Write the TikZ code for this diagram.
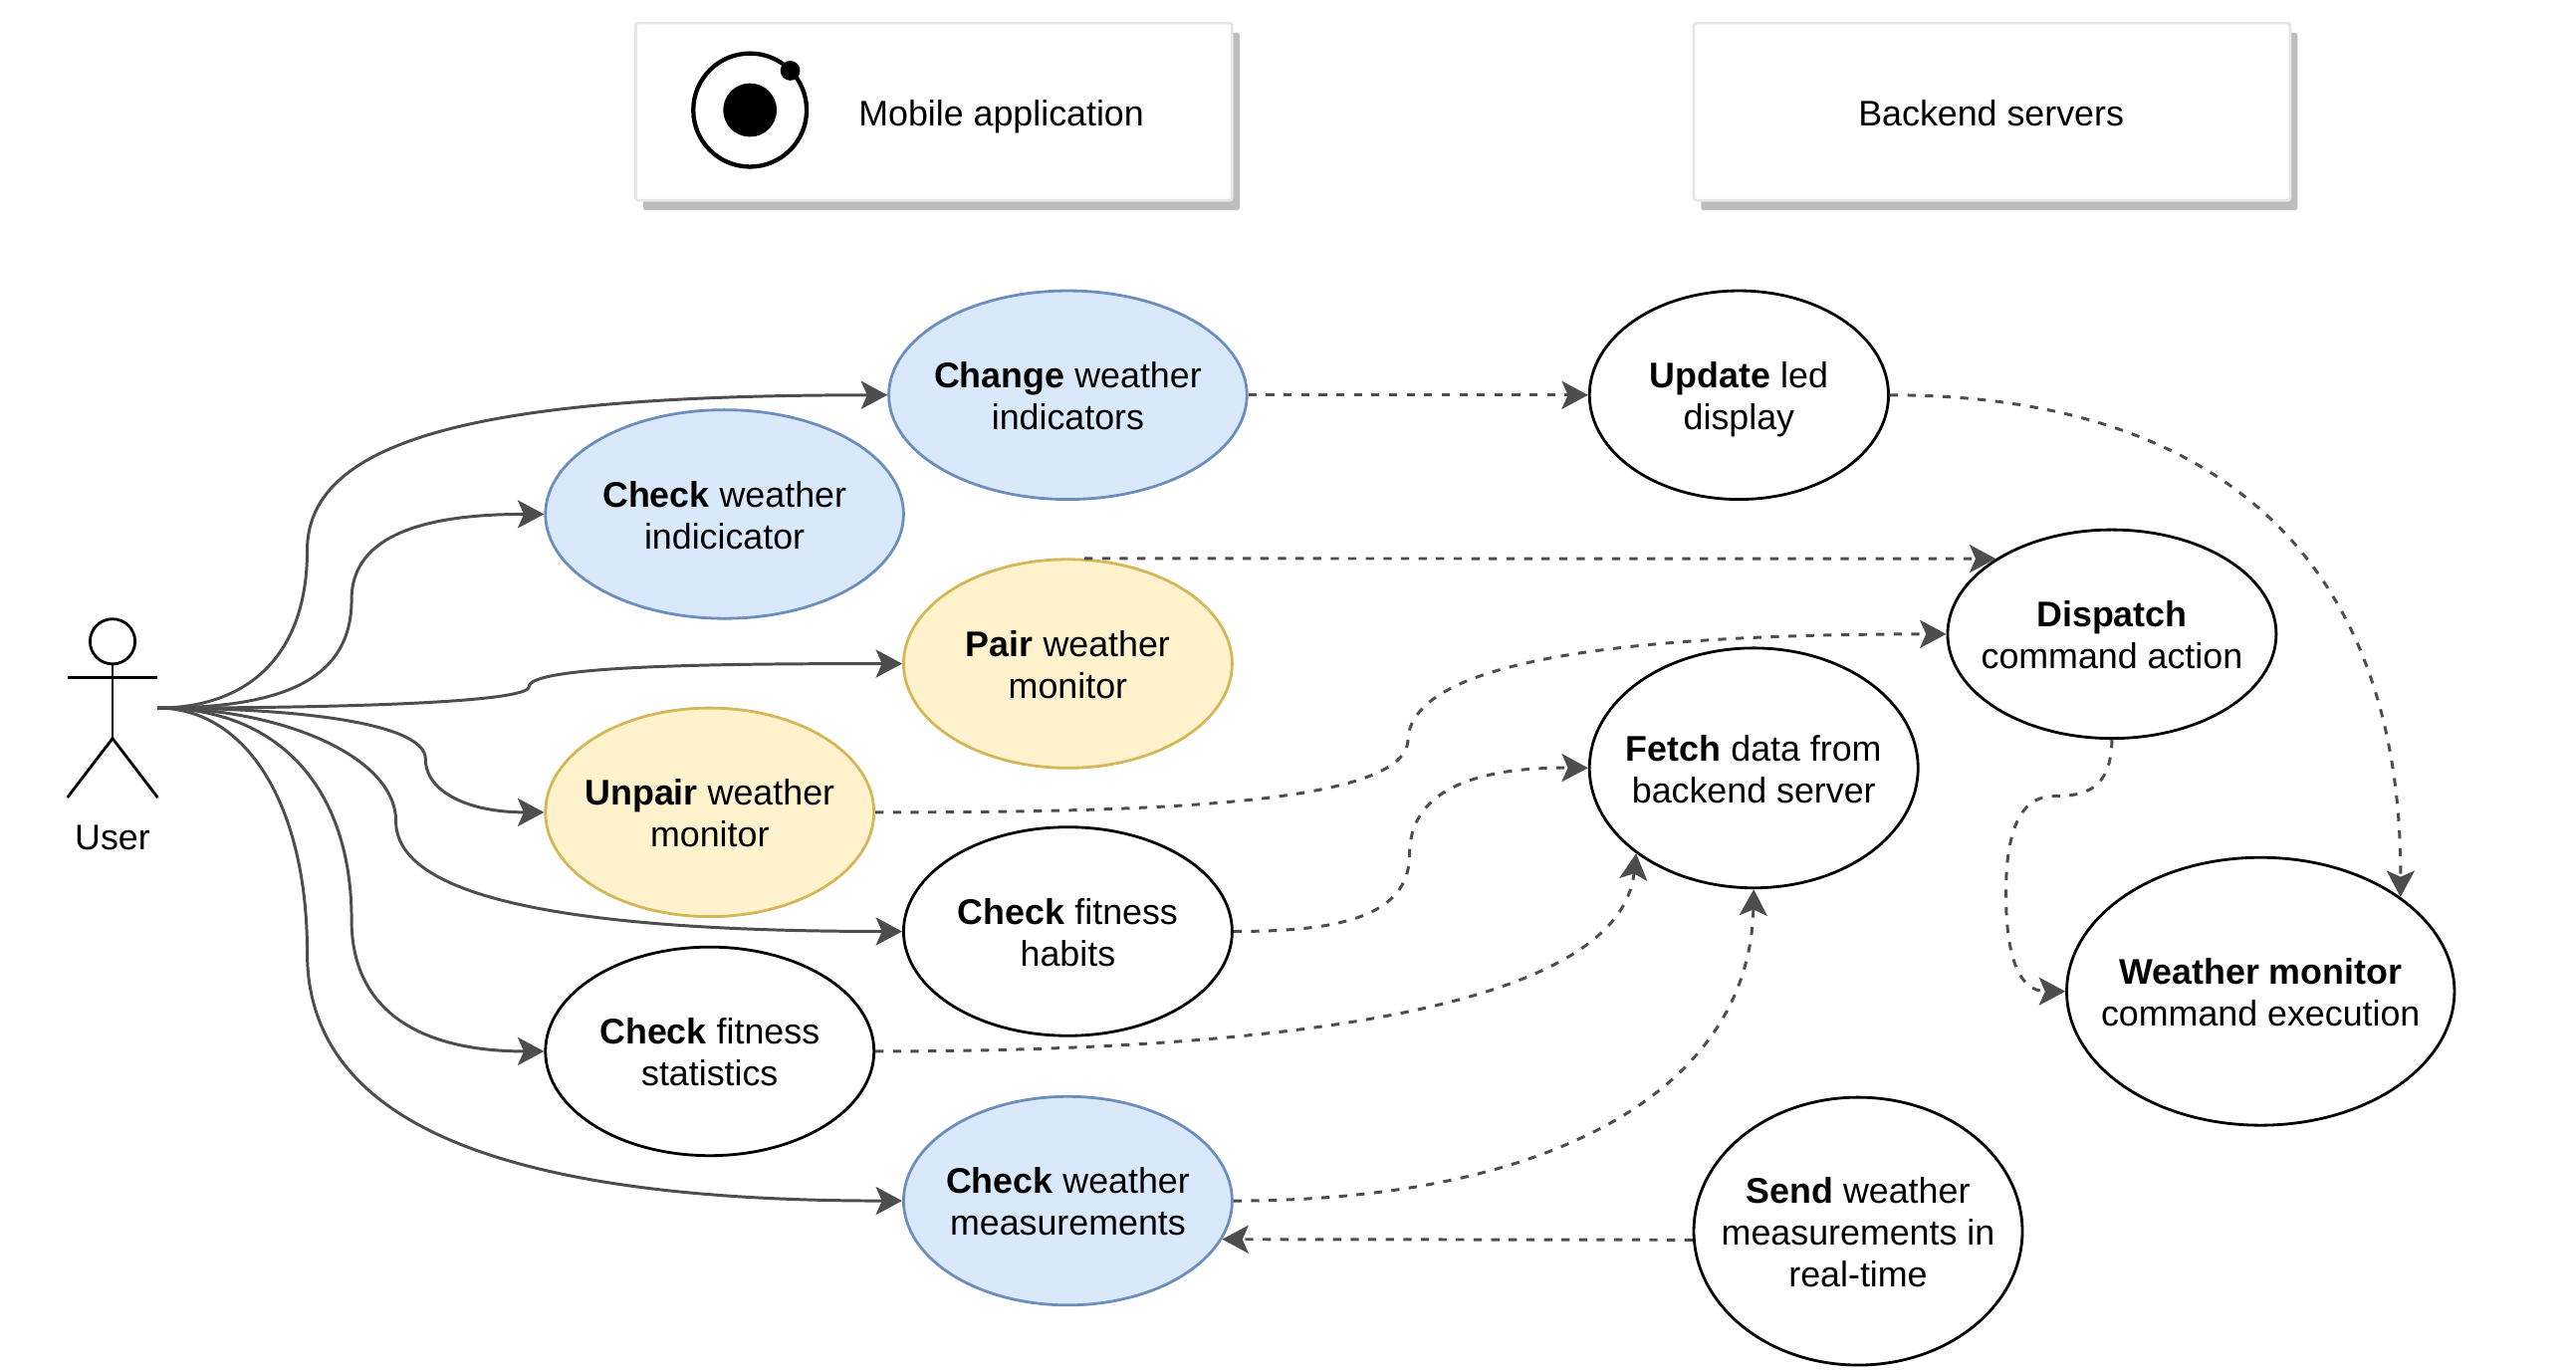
\documentclass[tikz,border=0pt]{standalone}
\usepackage{fontspec}
\setmainfont{Liberation Sans}
\usetikzlibrary{arrows.meta,shapes.geometric}
\definecolor{edgegray}{HTML}{4D4D4D}
\definecolor{blueline}{HTML}{6C8EBF}
\definecolor{bluefill}{HTML}{DAE8FC}
\definecolor{yellowline}{HTML}{D6B656}
\definecolor{yellowfill}{HTML}{FFF2CC}
\definecolor{boxline}{HTML}{E6E6E6}
\definecolor{shadowgray}{HTML}{BDBDBD}
\newcommand{\uct}[1]{\makebox[0pt]{\raisebox{-8.4pt}[0pt][0pt]{\begin{tabular}{@{}c@{}}#1\end{tabular}}}}
\tikzset{
  uc/.style={ellipse,draw=black,line width=1.7pt,fill=white,inner sep=0pt,font=\fontsize{21.7}{25.5}\selectfont},
  blueuc/.style={uc,draw=blueline,fill=bluefill},
  yellowuc/.style={uc,draw=yellowline,fill=yellowfill},
  solidedge/.style={draw=edgegray,line width=1.8pt,-{Stealth[length=16pt,width=17pt,inset=3.7pt]}},
  dashedge/.style={solidedge,dash pattern=on 5pt off 5.7pt},
  headbox/.style={draw=boxline,fill=white,line width=1.6pt,rounded corners=1.5pt,minimum width=363pt,minimum height=108pt,inner sep=0pt},
  shadowbox/.style={fill=shadowgray,draw=none,rounded corners=1.5pt,minimum width=363pt,minimum height=108pt,inner sep=0pt},
  plain/.style={inner sep=0pt,anchor=base,font=\fontsize{21.7}{25.5}\selectfont},
  actorline/.style={draw=black,line width=1.7pt}
}
\begin{document}
\begin{tikzpicture}[x=1pt,y=-1pt]
\useasboundingbox (0,0) rectangle (1568,835.2);
% header boxes
\node[shadowbox] (mobileshadow) at (573,74) {};
\node[headbox] (mobile) at (568.5,68) {};
\node[shadowbox] (backendshadow) at (1217,74) {};
\node[headbox] (backend) at (1212.5,68) {};
\node[plain] (mobiletext) at (609.5,76.5) {Mobile application};
\node[plain] (backendtext) at (1212,76.5) {Backend servers};
% icon
\draw[black,line width=2.6pt] (456.5,67) circle (34.5pt);
\fill[black] (456.5,67) circle (16.3pt);
\fill[black] (481,43) circle (6pt);
% actor
\draw[actorline] (68.5,390.5) circle (13.7pt);
\draw[actorline] (68.5,404) -- (68.5,449.5);
\draw[actorline] (41,412.5) -- (96,412.5);
\draw[actorline] (41,485.5) -- (68.5,449.5) -- (96,485.5);
\node[plain] (userlabel) at (68.5,517.5) {User};
\coordinate (user) at (96,431);
% use cases
\node[blueuc,minimum width=218pt,minimum height=127pt] (change) at (650,240.5) {\uct{\textbf{Change} weather\\indicators}};
\node[blueuc,minimum width=218pt,minimum height=127pt] (checkind) at (441,313) {\uct{\textbf{Check} weather\\indicicator}};
\node[yellowuc,minimum width=200pt,minimum height=127pt] (pair) at (650,404) {\uct{\textbf{Pair} weather\\monitor}};
\node[yellowuc,minimum width=200pt,minimum height=127pt] (unpair) at (432,494.5) {\uct{\textbf{Unpair} weather\\monitor}};
\node[uc,minimum width=200pt,minimum height=127pt] (habits) at (650,567) {\uct{\textbf{Check} fitness\\habits}};
\node[uc,minimum width=200pt,minimum height=127pt] (stats) at (432,640) {\uct{\textbf{Check} fitness\\statistics}};
\node[blueuc,minimum width=200pt,minimum height=127pt] (meas) at (650,731) {\uct{\textbf{Check} weather\\measurements}};
\node[uc,minimum width=182pt,minimum height=127pt] (update) at (1058.5,240.5) {\uct{\textbf{Update} led\\display}};
\node[uc,minimum width=200pt,minimum height=127pt] (dispatch) at (1285.5,386) {\uct{\textbf{Dispatch}\\command action}};
\node[uc,minimum width=200pt,minimum height=146pt] (fetch) at (1067.5,467.5) {\uct{\textbf{Fetch} data from\\backend server}};
\node[uc,minimum width=236pt,minimum height=163pt] (wm) at (1376,603.5) {\uct{\textbf{Weather monitor}\\command execution}};
\node[uc,minimum width=200pt,minimum height=163pt] (send) at (1131,749.5) {\uct{\textbf{Send} weather\\measurements in\\real-time}};
% solid connectors
\draw[solidedge] (user) .. controls (150,431) and (187,400) .. (187,335) .. controls (187,265) and (300,240.5) .. (change.west);
\draw[solidedge] (user) .. controls (170,431) and (214,415) .. (214,365) .. controls (214,325) and (260,313) .. (checkind.west);
\draw[solidedge] (user) .. controls (200,431) and (322,428) .. (322,418) .. controls (322,405) and (440,404) .. (pair.west);
\draw[solidedge] (user) .. controls (180,431) and (259,440) .. (259,462) .. controls (259,482) and (285,494.5) .. (unpair.west);
\draw[solidedge] (user) .. controls (170,431) and (241,460) .. (241,500) .. controls (241,545) and (340,567) .. (habits.west);
\draw[solidedge] (user) .. controls (170,431) and (214,480) .. (214,560) .. controls (214,615) and (255,640) .. (stats.west);
\draw[solidedge] (user) .. controls (150,431) and (187,490) .. (187,580) .. controls (187,690) and (320,731) .. (meas.west);
% dashed connectors
\draw[dashedge] (change.east) -- (update.west);
\draw[dashedge] (update.east) .. controls (1365,240.5) and (1462,355) .. (wm.34);
\draw[dashedge] (pair.81) -- (dispatch.147.6);
\draw[dashedge] (unpair.east) .. controls (700,494.5) and (857,490) .. (857,450) .. controls (860,400) and (1000,386) .. (dispatch.west);
\draw[dashedge] (habits.east) .. controls (810,567) and (858,560) .. (858,520) .. controls (858,480) and (900,467) .. (fetch.west);
\draw[dashedge] (stats.east) .. controls (750,640) and (985,620) .. (fetch.216.4);
\draw[dashedge] (meas.east) .. controls (950,731) and (1065,660) .. (fetch.south);
\draw[dashedge] (dispatch.south) .. controls (1285,480) and (1270,484.7) .. (1250,484.7) .. controls (1230,484.7) and (1221,505) .. (1221,544) .. controls (1221,580) and (1228,603.5) .. (wm.west);
\draw[dashedge] (send.183.4) -- (meas.-14.3);
\end{tikzpicture}
\end{document}
